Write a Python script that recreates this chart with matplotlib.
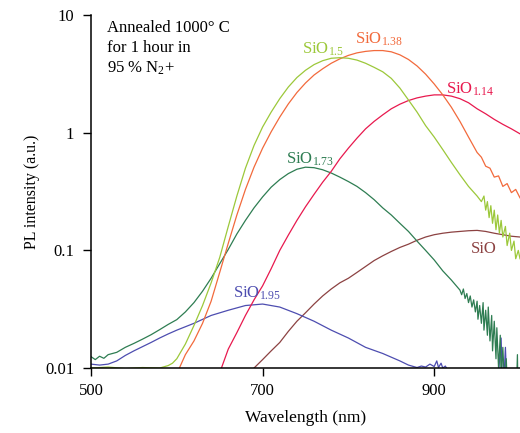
import matplotlib
matplotlib.use("Agg")
import matplotlib.pyplot as plt
from matplotlib.ticker import FixedLocator, NullLocator

plt.rcParams['font.family'] = ['Liberation Serif', 'DejaVu Serif']
plt.rcParams['mathtext.fontset'] = 'custom'
plt.rcParams['mathtext.rm'] = 'Liberation Serif'
plt.rcParams['mathtext.it'] = 'Liberation Serif:italic'

# ---- data (wavelength nm, PL intensity a.u.) ----
wl_195 = [500, 510, 520, 530, 540, 550, 560, 570, 580, 590, 600, 620, 640, 660, 680, 700,
          720, 740, 760, 780, 800, 820, 840, 860, 870, 880, 885, 890, 895, 900, 903, 905,
          908, 910, 913, 915, 920, 975, 978, 980, 983, 985]
pl_195 = [0.0108, 0.0106, 0.0108, 0.0115, 0.0128, 0.0140, 0.0152, 0.0165, 0.0180, 0.0195,
          0.0210, 0.0240, 0.0280, 0.0310, 0.0340, 0.0350, 0.0330, 0.0290, 0.0250, 0.0210,
          0.0180, 0.0150, 0.0133, 0.0115, 0.0106, 0.0101, 0.0104, 0.0102, 0.0108, 0.0103,
          0.0115, 0.0101, 0.0110, 0.0100, 0.0104, 0.0098, 0.0090, 0.0090, 0.0180, 0.0050,
          0.0150, 0.0060]

wl_173 = [500, 505, 510, 515, 520, 530, 540, 550, 560, 570, 580, 590, 600, 610, 620, 630,
          640, 650, 660, 670, 680, 690, 700, 710, 720, 730, 740, 750, 760, 770, 780, 790,
          800, 810, 820, 830, 840, 850, 860, 870, 880, 890, 900, 910, 920, 930, 932, 934,
          936, 938, 940, 942, 944, 946, 948, 950, 951, 953, 955, 957, 958, 960, 962, 963,
          965, 967, 968, 970, 972, 973, 975, 977, 978, 980, 982, 984, 986, 988, 990, 993,
          995, 997, 998, 1000]
pl_173 = [0.0125, 0.0118, 0.0126, 0.0121, 0.0130, 0.0136, 0.0150, 0.0162, 0.0176, 0.0192,
          0.0212, 0.0235, 0.0258, 0.0300, 0.0360, 0.0450, 0.0580, 0.0770, 0.1020, 0.1380,
          0.1800, 0.2300, 0.2850, 0.3450, 0.4000, 0.4500, 0.4900, 0.5100, 0.5050, 0.4850,
          0.4550, 0.4200, 0.3850, 0.3500, 0.3100, 0.2700, 0.2300, 0.2000, 0.1700, 0.1450,
          0.1200, 0.1000, 0.0830, 0.0670, 0.0560, 0.0460, 0.0420, 0.0470, 0.0390, 0.0430,
          0.0360, 0.0410, 0.0330, 0.0380, 0.0300, 0.0370, 0.0260, 0.0340, 0.0240, 0.0360,
          0.0210, 0.0310, 0.0190, 0.0330, 0.0170, 0.0280, 0.0140, 0.0250, 0.0120, 0.0220,
          0.0100, 0.0190, 0.0080, 0.0150, 0.0070, 0.0120, 0.0050, 0.0090, 0.0040, 0.0080,
          0.0040, 0.0130, 0.0040, 0.0050]

wl_15 = [500, 520, 540, 560, 580, 590, 595, 600, 610, 620, 630, 640, 650, 660, 670, 680,
         690, 700, 710, 720, 730, 740, 750, 760, 770, 780, 790, 800, 810, 820, 830, 840,
         850, 860, 870, 880, 890, 900, 910, 920, 930, 940, 950, 955, 958, 960, 962, 964,
         966, 968, 970, 972, 974, 976, 978, 980, 983, 985, 988, 990, 993, 995, 998, 1000]
pl_15 = [0.0100, 0.0102, 0.0099, 0.0101, 0.0100, 0.0105, 0.0110, 0.0120, 0.0160, 0.0230,
         0.0340, 0.0530, 0.0870, 0.1600, 0.2900, 0.5000, 0.7800, 1.1200, 1.5000, 1.9500,
         2.4500, 2.9500, 3.4000, 3.8000, 4.1000, 4.3000, 4.3500, 4.3000, 4.1500, 3.9000,
         3.6000, 3.3000, 2.9000, 2.4000, 1.9000, 1.5000, 1.1500, 0.9200, 0.7200, 0.5600,
         0.4400, 0.3500, 0.2900, 0.2600, 0.2900, 0.2200, 0.2600, 0.1900, 0.2400, 0.1700,
         0.2200, 0.1500, 0.2000, 0.1400, 0.1800, 0.1300, 0.1600, 0.1100, 0.1400, 0.1000,
         0.1200, 0.0850, 0.1000, 0.0850]

wl_138 = [603, 610, 620, 630, 640, 650, 660, 670, 680, 690, 700, 710, 720, 730, 740, 750,
          760, 770, 780, 790, 800, 810, 820, 830, 840, 850, 860, 870, 880, 890, 900, 910,
          920, 930, 940, 950, 955, 960, 965, 970, 975, 980, 985, 990, 995, 1000]
pl_138 = [0.0100, 0.0130, 0.0170, 0.0240, 0.0370, 0.0650, 0.1150, 0.2000, 0.3300, 0.5100,
          0.7400, 1.0200, 1.3600, 1.7600, 2.2000, 2.6500, 3.1000, 3.5000, 3.9000, 4.2500,
          4.5500, 4.7800, 4.9200, 5.0000, 5.0000, 4.8800, 4.6000, 4.2000, 3.7000, 3.1500,
          2.6000, 2.1000, 1.6500, 1.2500, 0.9200, 0.6800, 0.6200, 0.5200, 0.5000, 0.4200,
          0.4300, 0.3500, 0.3700, 0.3100, 0.3300, 0.2800]

wl_114 = [652, 660, 670, 680, 690, 700, 710, 720, 730, 740, 750, 760, 770, 780, 790, 800,
          810, 820, 830, 840, 850, 860, 870, 880, 890, 900, 910, 920, 930, 940, 950, 960,
          970, 980, 990, 1000]
pl_114 = [0.0100, 0.0145, 0.0200, 0.0280, 0.0380, 0.0500, 0.0700, 0.1000, 0.1350, 0.1800,
          0.2350, 0.3000, 0.3800, 0.4700, 0.6000, 0.7400, 0.9000, 1.0800, 1.2500, 1.4200,
          1.6000, 1.7500, 1.8800, 1.9800, 2.0500, 2.1000, 2.1000, 2.0500, 1.9500, 1.8000,
          1.6000, 1.4500, 1.3000, 1.1800, 1.0800, 0.9800]

wl_10 = [690, 700, 710, 720, 730, 740, 750, 760, 770, 780, 790, 800, 810, 820, 830, 840,
         850, 860, 870, 880, 890, 900, 910, 920, 930, 940, 950, 960, 970, 980, 990, 1000]
pl_10 = [0.0100, 0.0118, 0.0140, 0.0165, 0.0205, 0.0250, 0.0295, 0.0350, 0.0410, 0.0470,
         0.0530, 0.0580, 0.0650, 0.0730, 0.0820, 0.0900, 0.0980, 0.1060, 0.1130, 0.1220,
         0.1300, 0.1360, 0.1400, 0.1430, 0.1450, 0.1470, 0.1480, 0.1450, 0.1400, 0.1360,
         0.1320, 0.1300]

x_ticks = [500, 700, 900]
y_ticks = [0.01, 0.1, 1, 10]
y_tick_labels = ['0.01', '0.1', '1', '10']

c_195 = '#4d4db0'
c_173 = '#2e7d52'
c_15 = '#9cc83a'
c_138 = '#f26a3c'
c_114 = '#e8194e'
c_10 = '#8c4242'

fig = plt.figure(figsize=(5.2, 4.33), dpi=100)
ax = fig.add_axes([0.175, 0.150, 0.825, 0.815])

lw = 0.9
ax.plot(wl_10, pl_10, color=c_10, lw=lw)
ax.plot(wl_195, pl_195, color=c_195, lw=lw)
ax.plot(wl_173, pl_173, color=c_173, lw=lw)
ax.plot(wl_114, pl_114, color=c_114, lw=lw)
ax.plot(wl_138, pl_138, color=c_138, lw=lw)
ax.plot(wl_15, pl_15, color=c_15, lw=lw)

ax.set_yscale('log')
ax.set_xlim(500, 1000)
ax.set_ylim(0.01, 10)
ax.xaxis.set_major_locator(FixedLocator(x_ticks))
ax.xaxis.set_minor_locator(NullLocator())
ax.yaxis.set_major_locator(FixedLocator(y_ticks))
ax.yaxis.set_minor_locator(NullLocator())
ax.set_yticklabels(y_tick_labels)
ax.set_xticklabels([str(t) for t in x_ticks])
ax.tick_params(axis='both', direction='out', length=6, width=1, labelsize=12)
ax.tick_params(axis='y', pad=6)
ax.tick_params(axis='x', pad=5)

for s in ['top', 'right']:
    ax.spines[s].set_visible(False)
for s in ['left', 'bottom']:
    ax.spines[s].set_linewidth(1.1)

ax.set_xlabel('Wavelength (nm)', fontsize=12.5, labelpad=8)
ax.set_ylabel('PL intensity (a.u.)', fontsize=11.5, labelpad=4)

ax.text(0.037, 0.985, 'Annealed 1000\u00b0 C\nfor 1 hour in\n95 % N$_2$+', transform=ax.transAxes,
        ha='left', va='top', fontsize=12, linespacing=1.3)

lab_fs = 12
ax.text(746, 4.7, 'SiO$_{1.5}$', color=c_15, fontsize=lab_fs, ha='left', va='baseline')
ax.text(808, 5.77, 'SiO$_{1.38}$', color=c_138, fontsize=lab_fs, ha='left', va='baseline')
ax.text(914, 2.17, 'SiO$_{1.14}$', color=c_114, fontsize=lab_fs, ha='left', va='baseline')
ax.text(727, 0.55, 'SiO$_{1.73}$', color=c_173, fontsize=lab_fs, ha='left', va='baseline')
ax.text(665, 0.040, 'SiO$_{1.95}$', color=c_195, fontsize=lab_fs, ha='left', va='baseline')
ax.text(943, 0.095, 'SiO', color=c_10, fontsize=lab_fs, ha='left', va='baseline')

fig.savefig('out.png', dpi=100)
